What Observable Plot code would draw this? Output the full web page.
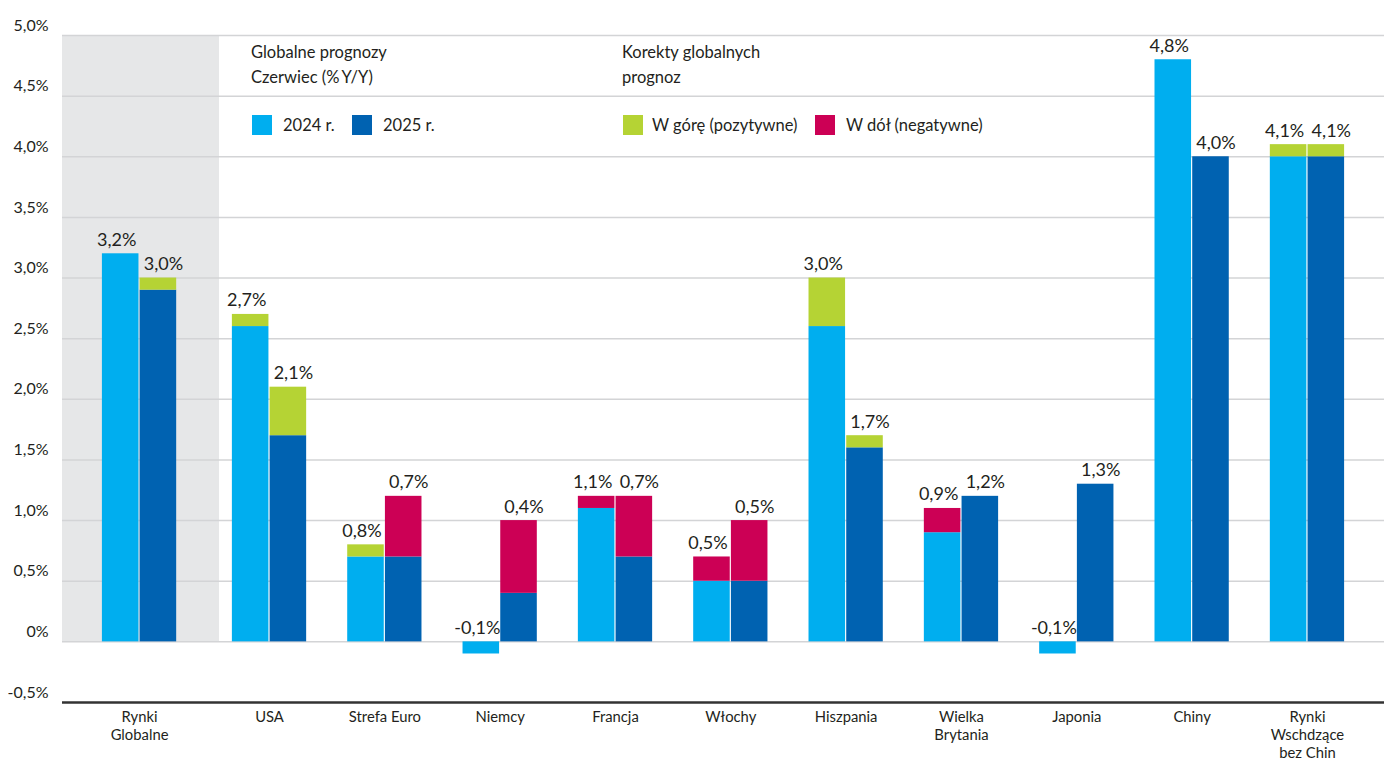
<!DOCTYPE html>
<html>
<head>
<meta charset="utf-8">
<script src="https://cdn.jsdelivr.net/npm/d3@7"></script>
<script src="https://cdn.jsdelivr.net/npm/@observablehq/plot@0.6"></script>
<style>
  body { margin: 0; background: #fff; font-family: Lato, "Open Sans", sans-serif; color: #231f20; }
  #wrap { position: relative; width: 1384px; height: 760px; overflow: hidden; }
  .leg { position: absolute; font-size: 16.5px; line-height: 25px; white-space: nowrap; }
  .sw { position: absolute; width: 20px; height: 20px; }
</style>
</head>
<body>
<div id="wrap"></div>
<script>
// Categories (line breaks are kept in the axis labels)
const categories = ["Rynki\nGlobalne", "USA", "Strefa Euro", "Niemcy", "Francja", "Włochy",
  "Hiszpania", "Wielka\nBrytania", "Japonia", "Chiny", "Rynki\nWschdzące\nbez Chin"];

// June global forecasts, % Y/Y
const forecast2024 = [3.2, 2.7, 0.8, -0.1, 1.1, 0.5, 3.0, 0.9, -0.1, 4.8, 4.1];
const forecast2025 = [3.0, 2.1, 0.7, 0.4, 0.7, 0.5, 1.7, 1.2, 1.3, 4.0, 4.1];

// Forecasts before the revision, % Y/Y
const previous2024 = [3.2, 2.6, 0.7, -0.1, 1.2, 0.7, 2.6, 1.1, -0.1, 4.8, 4.0];
const previous2025 = [2.9, 1.7, 1.2, 1.0, 1.2, 1.0, 1.6, 1.2, 1.3, 4.0, 4.0];

const yTicks = [-0.5, 0, 0.5, 1.0, 1.5, 2.0, 2.5, 3.0, 3.5, 4.0, 4.5, 5.0];

const colors = { y2024: "#00aeef", y2025: "#0062b1", up: "#b5d334", down: "#cc0055" };

const fmt = v => (v === 0 ? "0" : v.toFixed(1).replace(".", ",")) + "%";

// The global aggregate sits inside its own shaded panel, a little apart from the countries
const pos = i => (i === 0 ? i - 0.127 : i);

// Bar width and the thin gap between paired bars, in category units
const barW = 0.317, gap = 0.005;

const bars = [];
categories.forEach((c, i) => {
  [["2024", forecast2024[i], previous2024[i], -1], ["2025", forecast2025[i], previous2025[i], 1]]
    .forEach(([year, cur, prev, side]) => {
      const x1 = side < 0 ? pos(i) - gap - barW : pos(i) + gap;
      const x2 = x1 + barW;
      bars.push({
        year, i, cur, prev, x1, x2, xc: (x1 + x2) / 2,
        base: Math.min(cur, prev),
        lo: Math.min(cur, prev), hi: Math.max(cur, prev),
        top: Math.max(cur, prev, 0),
        label: fmt(cur)
      });
    });
});

const xDomain = [-0.795, 10.668];

const chart = Plot.plot({
  width: 1384, height: 760,
  marginLeft: 62, marginRight: 0, marginTop: 35, marginBottom: 58,
  style: { fontFamily: "Lato, 'Open Sans', sans-serif", color: "#231f20", background: "transparent" },
  x: { domain: xDomain, axis: null },
  y: { domain: [-0.5, 5], axis: null },
  marks: [
    // shaded panel behind the global aggregate
    Plot.rect([0], { x1: xDomain[0], x2: i => pos(i) + 0.693, y1: 0, y2: 5, fill: "#e6e7e8" }),
    Plot.ruleY(yTicks.filter(d => d > -0.5), { stroke: "#d3d4d6", strokeWidth: 1.5 }),
    Plot.rectY(bars.filter(d => d.year === "2024"), { x1: "x1", x2: "x2", y1: 0, y2: "base", fill: colors.y2024 }),
    Plot.rectY(bars.filter(d => d.year === "2025"), { x1: "x1", x2: "x2", y1: 0, y2: "base", fill: colors.y2025 }),
    Plot.rectY(bars.filter(d => d.cur > d.prev), { x1: "x1", x2: "x2", y1: "lo", y2: "hi", fill: colors.up }),
    Plot.rectY(bars.filter(d => d.cur < d.prev), { x1: "x1", x2: "x2", y1: "lo", y2: "hi", fill: colors.down }),
    Plot.text(bars.filter(d => d.year === "2024"), { x: "xc", y: "top", text: "label", lineAnchor: "bottom", dy: -8, dx: -4, fontSize: 18, fill: "#231f20" }),
    Plot.text(bars.filter(d => d.year === "2025"), { x: "xc", y: "top", text: "label", lineAnchor: "bottom", dy: -8, dx: 5, fontSize: 18, fill: "#231f20" }),
    Plot.ruleY([-0.5], { stroke: "#333", strokeWidth: 2.5 }),
    Plot.axisY(yTicks, { tickSize: 0, tickPadding: 14, tickFormat: fmt, fontSize: 16, dy: -10 }),
    Plot.axisX(d3.range(categories.length), {
      x: pos, tickSize: 0, tickPadding: 7, tickFormat: i => categories[i], fontSize: 14.8, lineHeight: 1.2
    })
  ]
});

const wrap = document.getElementById("wrap");
wrap.appendChild(chart);

// Legend drawn on top of the plot area
const legend = [
  { type: "text", x: 251, y: 40, html: "Globalne prognozy<br>Czerwiec (%\u2009Y/Y)" },
  { type: "text", x: 622, y: 40, html: "Korekty globalnych<br>prognoz" },
  { type: "swatch", x: 252, y: 115, color: colors.y2024 },
  { type: "text", x: 283, y: 112.5, html: "2024 r." },
  { type: "swatch", x: 352, y: 115, color: colors.y2025 },
  { type: "text", x: 383, y: 112.5, html: "2025 r." },
  { type: "swatch", x: 623, y: 115, color: colors.up },
  { type: "text", x: 652, y: 112.5, html: "W górę (pozytywne)" },
  { type: "swatch", x: 815, y: 115, color: colors.down },
  { type: "text", x: 846, y: 112.5, html: "W dół (negatywne)" }
];
for (const item of legend) {
  const el = document.createElement("div");
  el.className = item.type === "swatch" ? "sw" : "leg";
  el.style.left = item.x + "px";
  el.style.top = item.y + "px";
  if (item.type === "swatch") el.style.background = item.color;
  else el.innerHTML = item.html;
  wrap.appendChild(el);
}
</script>
</body>
</html>
